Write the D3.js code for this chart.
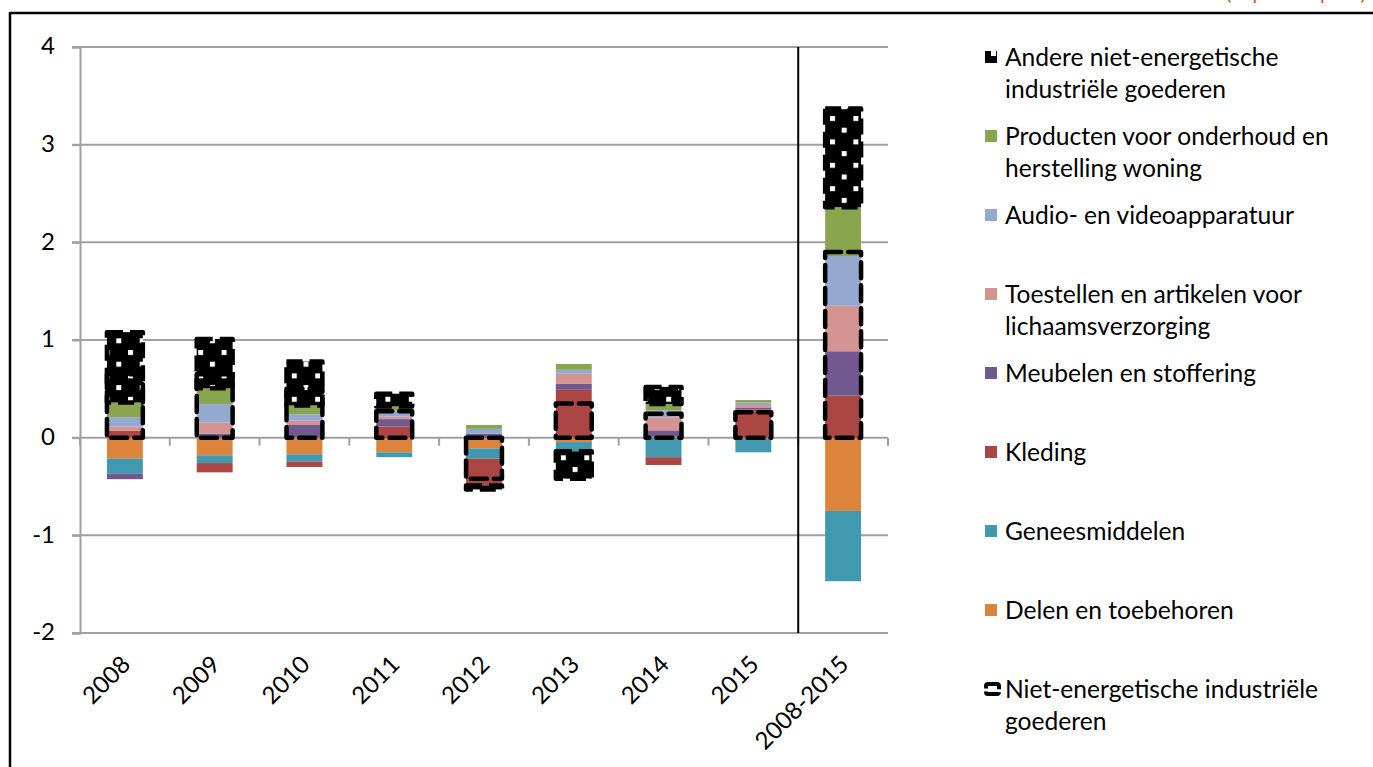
<!DOCTYPE html>
<html>
<head>
<meta charset="utf-8">
<script src="https://cdn.jsdelivr.net/npm/d3@7"></script>
<style>
  html, body { margin: 0; padding: 0; background: #fff; }
  svg { display: block; }
  text { font-family: Lato, "Noto Sans", sans-serif; }
</style>
</head>
<body>
<svg id="chart" width="1373" height="767"></svg>
<script>
// ---- data ----
const categories = ["2008", "2009", "2010", "2011", "2012", "2013", "2014", "2015", "2008-2015"];
const yTicks = [-2, -1, 0, 1, 2, 3, 4];

const delen          = [-0.215, -0.18, -0.17, -0.15, -0.11, -0.045,  0.01, -0.01, -0.75];
const geneesmiddelen = [-0.155, -0.08, -0.075, -0.05, -0.105, -0.095, -0.2, -0.14, -0.72];
const kleding        = [ 0.07, -0.095, -0.055, 0.115, -0.275, 0.49, -0.08,  0.29,  0.43];
const meubelen       = [-0.055, 0.04,  0.13,  0.075, 0.04,  0.06,  0.065, 0.02,  0.455];
const toestellen     = [ 0.045, 0.115, 0.045, 0.025, 0.0,   0.105, 0.135, 0.025, 0.465];
const audio          = [ 0.095, 0.19,  0.065, 0.065, 0.05,  0.04,  0.07,  0.025, 0.51];
const producten      = [ 0.15,  0.16,  0.09,  0.04,  0.04,  0.06,  0.065, 0.025, 0.50];
const andere         = [ 0.72,  0.505, 0.45,  0.13, -0.04, -0.28,  0.175, 0.0,   1.01];
const totaal         = [ 0.65,  0.65,  0.5,   0.27, -0.42,  0.35,  0.245, 0.26,  1.90];

const seriesKeys = ["delen", "geneesmiddelen", "kleding", "meubelen", "toestellen", "audio", "producten", "andere"];
const seriesValues = { delen, geneesmiddelen, kleding, meubelen, toestellen, audio, producten, andere };
const seriesLabels = {
  andere: ["Andere niet-energetische", "industriële goederen"],
  producten: ["Producten voor onderhoud en", "herstelling woning"],
  audio: ["Audio- en videoapparatuur"],
  toestellen: ["Toestellen en artikelen voor", "lichaamsverzorging"],
  meubelen: ["Meubelen en stoffering"],
  kleding: ["Kleding"],
  geneesmiddelen: ["Geneesmiddelen"],
  delen: ["Delen en toebehoren"]
};
const totalLabel = ["Niet-energetische industriële", "goederen"];
const colors = {
  delen: "#dd843c", geneesmiddelen: "#4199b0", kleding: "#aa4643", meubelen: "#71588f",
  toestellen: "#d39492", audio: "#93a9cf", producten: "#89a54e", andere: "url(#confetti)"
};

// ---- setup ----
const svg = d3.select("#chart");
const defs = svg.append("defs");
const pat = defs.append("pattern").attr("id", "confetti")
  .attr("patternUnits", "userSpaceOnUse").attr("width", 23.4).attr("height", 23.4)
  .attr("x", 830).attr("y", 116);
pat.append("rect").attr("width", 23.4).attr("height", 23.4).attr("fill", "#000");
pat.append("rect").attr("x", 0).attr("y", 0).attr("width", 5).attr("height", 5).attr("fill", "#fff");
pat.append("rect").attr("x", 11.7).attr("y", 11.7).attr("width", 5).attr("height", 5).attr("fill", "#fff");

const x = d3.scaleBand().domain(categories).range([80, 888]).paddingInner(0.6).paddingOuter(0.3);
const y = d3.scaleLinear().domain([-2, 4]).range([633, 47]);
const step = x.step();
const gapHalf = (step - x.bandwidth()) / 2;
const FS = 24;
const LFS = 24.6;

// frame
svg.append("line").attr("x1", 10).attr("x2", 1373).attr("y1", 13).attr("y2", 13)
  .attr("stroke", "#000").attr("stroke-width", 2.5);
svg.append("line").attr("x1", 10).attr("x2", 10).attr("y1", 12).attr("y2", 767)
  .attr("stroke", "#000").attr("stroke-width", 2.5);
svg.append("text").attr("x", 1226).attr("y", 0).attr("fill", "#d9542b")
  .attr("font-size", 20).text("(in procentpunt)");

// gridlines
svg.append("g").selectAll("line").data(yTicks).join("line")
  .attr("x1", 72).attr("x2", 888)
  .attr("y1", d => y(d)).attr("y2", d => y(d))
  .attr("stroke", "#a0a0a0").attr("stroke-width", 2);

// y axis
const yAxis = svg.append("g").attr("transform", "translate(80,0)")
  .call(d3.axisLeft(y).tickValues(yTicks).tickSize(8).tickPadding(17).tickFormat(d3.format("d")));
yAxis.select(".domain").attr("stroke", "#a0a0a0").attr("stroke-width", 2);
yAxis.selectAll(".tick line").attr("stroke", "#a0a0a0").attr("stroke-width", 2);
yAxis.selectAll(".tick text").attr("font-size", FS).attr("fill", "#000")
  .attr("font-family", "Lato").attr("dy", "0.28em").text(d => d < 0 ? "-" + Math.abs(d) : d);

// x category boundary ticks on zero line
const bounds = d3.range(categories.length + 1).map(i => i === categories.length
  ? x(categories[i - 1]) + x.bandwidth() + gapHalf
  : x(categories[i]) - gapHalf);
svg.append("g").selectAll("line").data(bounds).join("line")
  .attr("x1", d => d).attr("x2", d => d)
  .attr("y1", y(0)).attr("y2", y(0) + 8)
  .attr("stroke", "#a0a0a0").attr("stroke-width", 2);

// separator
svg.append("line").attr("x1", bounds[8]).attr("x2", bounds[8])
  .attr("y1", y(4)).attr("y2", y(-2)).attr("stroke", "#000").attr("stroke-width", 2);

// x labels
svg.append("g").selectAll("text").data(categories).join("text")
  .attr("transform", d => `translate(${x(d) + x.bandwidth() / 2 + 7},666) rotate(-45)`)
  .attr("text-anchor", "end").attr("font-size", FS).text(d => d);

// stacked bars
const table = categories.map((c, i) => {
  const row = { cat: c };
  seriesKeys.forEach(k => row[k] = seriesValues[k][i]);
  return row;
});
const stacked = d3.stack().keys(seriesKeys).offset(d3.stackOffsetDiverging)(table);
const gBars = svg.append("g");
stacked.forEach(s => {
  const isAndere = s.key === "andere";
  gBars.append("g").selectAll("rect").data(s.filter(d => d[1] - d[0] !== 0)).join("rect")
    .attr("x", d => x(d.data.cat))
    .attr("width", x.bandwidth())
    .attr("y", d => y(d[1]))
    .attr("height", d => y(d[0]) - y(d[1]))
    .attr("fill", colors[s.key])
    .attr("stroke", isAndere ? "#000" : "none")
    .attr("stroke-width", isAndere ? 4.5 : 0)
    .attr("stroke-dasharray", isAndere ? "16,7" : null)
    .attr("stroke-linejoin", "round");
});

// total (dashed box)
svg.append("g").selectAll("rect").data(categories.map((c, i) => ({ cat: c, v: totaal[i] }))).join("rect")
  .attr("x", d => x(d.cat))
  .attr("width", x.bandwidth())
  .attr("y", d => y(Math.max(0, d.v)))
  .attr("height", d => Math.abs(y(d.v) - y(0)))
  .attr("fill", "none").attr("stroke", "#000").attr("stroke-width", 4.5)
  .attr("stroke-dasharray", "16,7").attr("stroke-linejoin", "round").attr("stroke-linecap", "round");

// legend
const legendOrder = ["andere", "producten", "audio", "toestellen", "meubelen", "kleding", "geneesmiddelen", "delen"];
const lg = svg.append("g");
legendOrder.forEach((k, i) => {
  const cy = 57 + i * 79;
  if (k === "andere") {
    lg.append("rect").attr("x", 985).attr("y", cy - 6).attr("width", 12).attr("height", 12).attr("fill", "#000");
    lg.append("rect").attr("x", 991).attr("y", cy - 6).attr("width", 5).attr("height", 5).attr("fill", "#fff");
  } else {
    lg.append("rect").attr("x", 985).attr("y", cy - 6).attr("width", 12).attr("height", 12).attr("fill", colors[k]);
  }
  const t = lg.append("text").attr("x", 1005).attr("y", cy).attr("font-size", LFS);
  seriesLabels[k].forEach((line, j) => {
    t.append("tspan").attr("x", 1005).attr("dy", j === 0 ? "0.35em" : 32).text(line);
  });
});
{
  const cy = 57 + 8 * 79;
  lg.append("rect").attr("x", 986).attr("y", cy - 5).attr("width", 13).attr("height", 10).attr("rx", 2)
    .attr("fill", "#fff").attr("stroke", "#000").attr("stroke-width", 4)
    .attr("stroke-dasharray", "15,3");
  const t = lg.append("text").attr("x", 1005).attr("y", cy).attr("font-size", LFS);
  totalLabel.forEach((line, j) => {
    t.append("tspan").attr("x", 1005).attr("dy", j === 0 ? "0.35em" : 32).text(line);
  });
}
</script>
</body>
</html>
